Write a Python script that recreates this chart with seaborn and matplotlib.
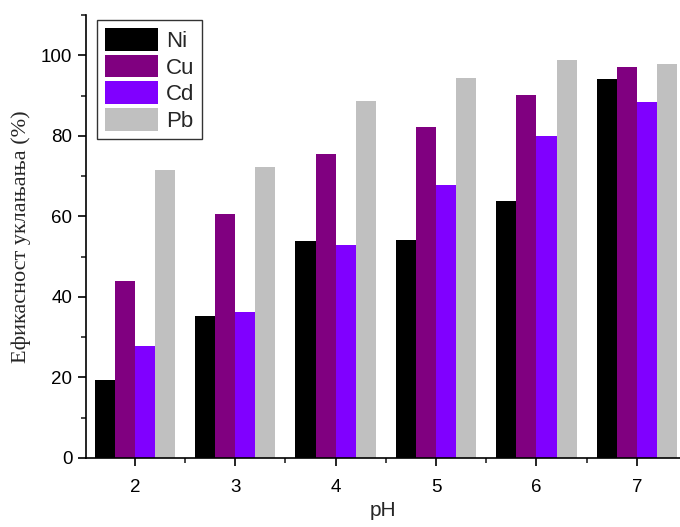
import pandas as pd
import matplotlib
matplotlib.use("Agg")
import matplotlib.pyplot as plt
import seaborn as sns
from matplotlib.ticker import MultipleLocator

# data
ph_values = ["2", "3", "4", "5", "6", "7"]
metals = ["Ni", "Cu", "Cd", "Pb"]
ni = [19.4, 35.3, 53.8, 54.1, 63.7, 94.0]
cu = [44.0, 60.7, 75.6, 82.1, 90.2, 97.0]
cd = [27.7, 36.3, 52.9, 67.8, 80.0, 88.3]
pb = [71.6, 72.3, 88.6, 94.3, 98.7, 97.9]
metal_colors = {"Ni": "#000000", "Cu": "#800080", "Cd": "#8000FF", "Pb": "#C0C0C0"}

rows = []
for name, vals in zip(metals, [ni, cu, cd, pb]):
    for p, v in zip(ph_values, vals):
        rows.append({"pH": p, "metal": name, "eff": v})
df = pd.DataFrame(rows)

sns.set_style("ticks")
plt.rcParams["font.family"] = ["Liberation Sans", "DejaVu Sans"]

fig = plt.figure(figsize=(6.8, 5.27), dpi=100)
ax = fig.add_axes([0.126, 0.131, 0.874, 0.8406])

sns.barplot(data=df, x="pH", y="eff", hue="metal", order=ph_values, hue_order=metals,
            palette=metal_colors, width=0.8, saturation=1, linewidth=0, ax=ax)

ax.set_xlim(-0.49, 5.43)
ax.set_ylim(0, 110)
ax.yaxis.set_major_locator(MultipleLocator(20))
ax.yaxis.set_minor_locator(MultipleLocator(10))
ax.xaxis.set_minor_locator(MultipleLocator(0.5))
ax.tick_params(which="major", direction="out", length=6, width=1.2, labelsize=13.5, colors="black")
ax.tick_params(which="minor", direction="out", length=3.5, width=1.2)
ax.tick_params(axis="x", pad=9)

for side in ["top", "right"]:
    ax.spines[side].set_visible(False)
for side in ["left", "bottom"]:
    ax.spines[side].set_linewidth(1.2)
    ax.spines[side].set_color("black")

ax.set_xlabel("pH", fontsize=15, labelpad=4)
ax.set_ylabel("Ефикасност уклањања (%)", fontsize=16, family=["Liberation Serif", "DejaVu Serif"], labelpad=7)

leg = ax.legend(loc="upper left", bbox_to_anchor=(0.012, 0.998), fontsize=16, frameon=True, fancybox=False,
                handlelength=2.4, handleheight=1.2, handletextpad=0.35, labelspacing=0.12, borderpad=0.35,
                borderaxespad=0.2)
leg.get_frame().set_edgecolor("black")
leg.get_frame().set_linewidth(1.0)

fig.savefig("out.png", dpi=100)
